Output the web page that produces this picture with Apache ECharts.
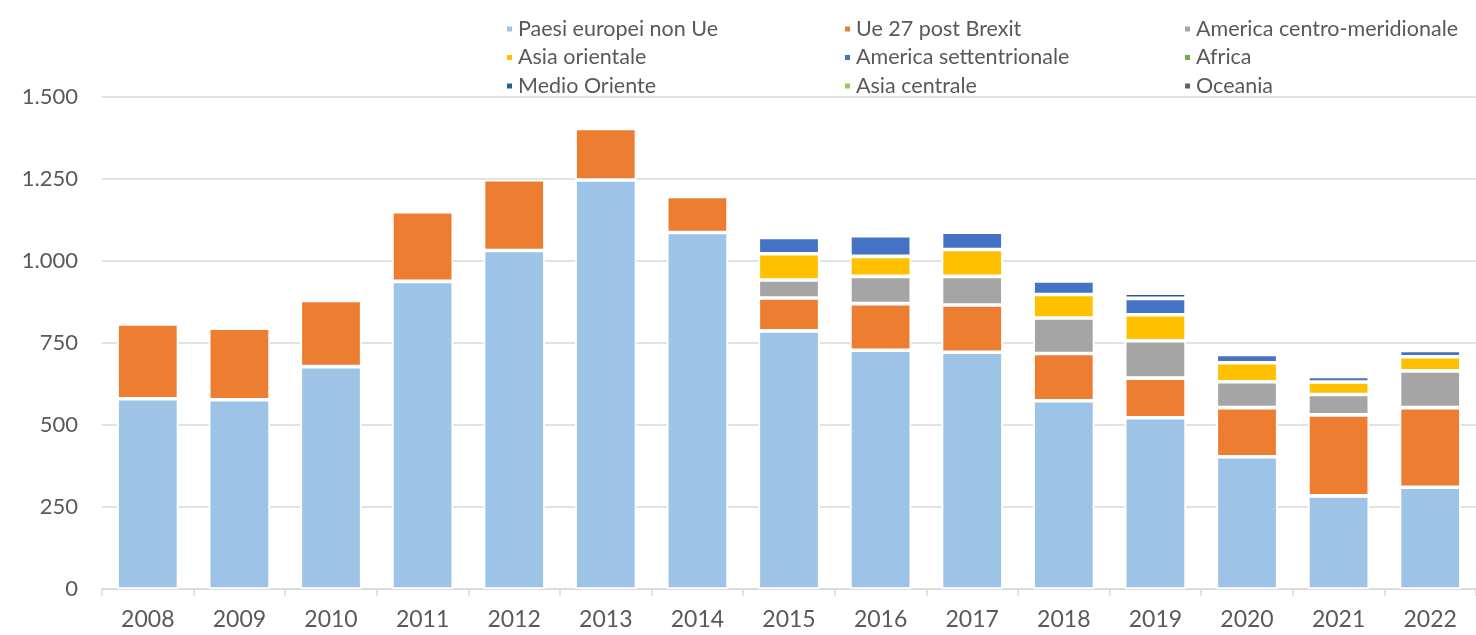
<!DOCTYPE html>
<html lang="it">
<head>
    <meta charset="UTF-8">
    <title>Flussi per area di provenienza</title>
    <style>
        html, body { margin: 0; padding: 0; background: #fff; }
    </style>
</head>
<body>
<div id="main" style="width: 1476px;height:635px;"></div>

<script src="https://cdn.jsdelivr.net/npm/echarts@6/dist/echarts.min.js"></script>
<script>
    // categorie (anni)
    var anni = ['2008', '2009', '2010', '2011', '2012', '2013', '2014', '2015', '2016', '2017', '2018', '2019', '2020', '2021', '2022'];

    // valori per area
    var paesiEuropeiNonUe = [580, 577, 678, 938, 1032, 1247, 1087, 787, 728, 722, 574, 522, 403, 284, 310];
    var ue27PostBrexit = [228, 218, 202, 212, 216, 157, 110, 100, 142, 144, 144, 121, 150, 247, 243];
    var americaCentroMer = [0, 0, 0, 0, 0, 0, 0, 55, 83, 87, 108, 114, 79, 62, 112];
    var asiaOrientale = [0, 0, 0, 0, 0, 0, 0, 80, 61, 82, 72, 79, 58, 38, 43];
    var americaSett = [0, 0, 0, 0, 0, 0, 0, 50, 63, 53, 41, 50, 25, 17, 19];
    var africa = [0, 0, 0, 0, 0, 0, 0, 0, 0, 0, 0, 0, 0, 0, 0];
    var medioOriente = [0, 0, 0, 0, 0, 0, 0, 0, 0, 0, 0, 16, 0, 0, 0];
    var asiaCentrale = [0, 0, 0, 0, 0, 0, 0, 0, 0, 0, 0, 0, 0, 0, 0];
    var oceania = [0, 0, 0, 0, 0, 0, 0, 0, 0, 0, 0, 0, 0, 0, 0];

    var aree = [
        { name: 'Paesi europei non Ue', data: paesiEuropeiNonUe, color: '#9dc3e6' },
        { name: 'Ue 27 post Brexit', data: ue27PostBrexit, color: '#ed7d31' },
        { name: 'America centro-meridionale', data: americaCentroMer, color: '#a5a5a5' },
        { name: 'Asia orientale', data: asiaOrientale, color: '#ffc000' },
        { name: 'America settentrionale', data: americaSett, color: '#4472c4' },
        { name: 'Africa', data: africa, color: '#70ad47' },
        { name: 'Medio Oriente', data: medioOriente, color: '#255e91' },
        { name: 'Asia centrale', data: asiaCentrale, color: '#92d050' },
        { name: 'Oceania', data: oceania, color: '#636363' }
    ];

    var testo = '#595959';
    var griglia = '#d9d9d9';
    var font = 'Lato';

    var series = aree.map(function (a) {
        return {
            name: a.name,
            type: 'bar',
            stack: 'tot',
            barCategoryGap: '33%',
            itemStyle: { color: a.color, borderColor: '#fff', borderWidth: 1.8 },
            data: a.data.map(function (v) { return v ? v : '-'; })
        };
    });

    var legendaColonna = function (nomi, left) {
        return {
            orient: 'vertical',
            left: left,
            top: 18,
            padding: 0,
            itemGap: 6.5,
            itemWidth: 7,
            itemHeight: 7,
            icon: 'rect',
            selectedMode: false,
            textStyle: { color: testo, fontSize: 21.5, fontFamily: font, lineHeight: 21 },
            data: nomi
        };
    };

    var chart = echarts.init(document.getElementById('main'));
    chart.setOption({
        backgroundColor: '#fff',
        animation: false,
        legend: [
            legendaColonna(['Paesi europei non Ue', 'Asia orientale', 'Medio Oriente'], 505),
            legendaColonna(['Ue 27 post Brexit', 'America settentrionale', 'Asia centrale'], 843),
            legendaColonna(['America centro-meridionale', 'Africa', 'Oceania'], 1183)
        ],
        grid: {
            left: 102,
            top: 97,
            width: 1382,
            height: 492
        },
        xAxis: {
            type: 'category',
            data: anni,
            axisLine: { lineStyle: { color: griglia, width: 1.5 } },
            axisTick: { show: true, length: 7, lineStyle: { color: griglia, width: 1.5 } },
            axisLabel: { color: testo, fontSize: 23, fontFamily: font, margin: 19 }
        },
        yAxis: {
            type: 'value',
            min: 0,
            max: 1500,
            interval: 250,
            axisLine: { show: false },
            axisTick: { show: false },
            splitLine: { lineStyle: { color: griglia, width: 1.5 } },
            axisLabel: {
                color: testo,
                fontSize: 22,
                fontFamily: font,
                margin: 24,
                formatter: function (v) {
                    return String(v).replace(/\B(?=(\d{3})+(?!\d))/g, '.');
                }
            }
        },
        series: series
    });
</script>
</body>
</html>
